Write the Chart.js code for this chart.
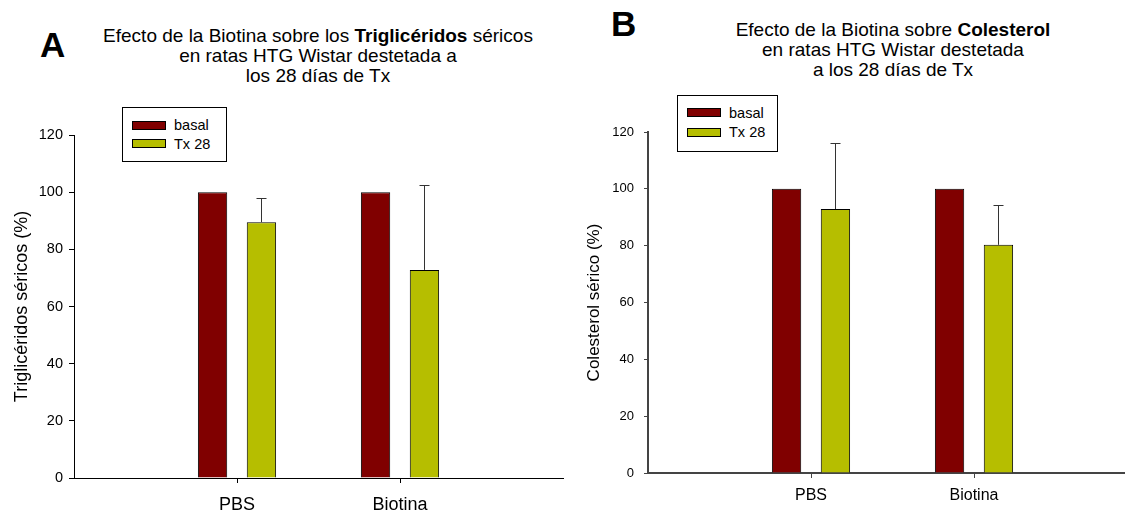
<!DOCTYPE html>
<html lang="es">
<head>
<meta charset="utf-8">
<title>Efecto de la Biotina</title>
<script src="https://cdn.jsdelivr.net/npm/chart.js@4.4.1/dist/chart.umd.min.js"></script>
<style>
    html, body { margin: 0; padding: 0; background: #fff; }
    body {
        width: 1125px; height: 511px; overflow: hidden; position: relative;
        font-family: "Liberation Sans", Arial, sans-serif; color: #000;
    }
    canvas { position: absolute; top: 0; }
    .abs { position: absolute; white-space: nowrap; }
    .letter { font-weight: bold; font-size: 35px; line-height: 35px; }
    .title { font-size: 19px; line-height: 20px; text-align: center; width: 500px; }
    .legend { border: 1px solid #000; box-sizing: border-box; background: #fff; }
    .swatch { border: 1px solid #000; box-sizing: border-box; }
    .leg-text { font-size: 14.5px; line-height: 14.5px; }
</style>
</head>
<body>

<div class="abs letter" style="left:40px;top:27px">A</div>
<div class="abs title" style="left:68px;top:26px">Efecto de la Biotina sobre los <b>Triglicéridos</b> séricos<br>en ratas HTG Wistar destetada a<br>los 28 días de Tx</div>

<div class="abs letter" style="left:611px;top:6px">B</div>
<div class="abs title" style="left:643px;top:20px">Efecto de la Biotina sobre <b>Colesterol</b><br>en ratas HTG Wistar destetada<br>a los 28 días de Tx</div>

<canvas id="chartA" width="574" height="511" style="left:0"></canvas>
<canvas id="chartB" width="585" height="511" style="left:560px"></canvas>

<script>
// Data
const categories = ['PBS', 'Biotina'];
const yTickValues = [0, 20, 40, 60, 80, 100, 120];
const seriesNames = ['basal', 'Tx 28'];
const seriesColors = ['#800000', '#b6be00'];

// A - Triglicéridos séricos (%)
const trigBasal = [100, 100];
const trigTx28 = [89.5, 72.8];
const trigTx28Err = [8.6, 29.6];

// B - Colesterol sérico (%)
const colBasal = [100, 100];
const colTx28 = [92.9, 80.3];
const colTx28Err = [23.4, 13.9];

// empty slot on each side of the two groups, like the original plot
const pad = arr => [null, ...arr, null];
const axisLabels = pad(categories).map(c => c || '');

// Error bars (only the upper half, as in the picture)
const errorBars = {
    id: 'errorBars',
    afterDatasetsDraw(chart, args, opts) {
        const ctx = chart.ctx;
        const yScale = chart.scales.y;
        chart.data.datasets.forEach((ds, i) => {
            if (!ds.errors) return;
            chart.getDatasetMeta(i).data.forEach((bar, j) => {
                const v = ds.data[j], err = ds.errors[j];
                if (v == null || err == null) return;
                const x = Math.round(bar.x) + 0.5;
                const top = Math.round(yScale.getPixelForValue(v + err)) + 0.5;
                ctx.save();
                ctx.strokeStyle = opts.color;
                ctx.lineWidth = 1;
                ctx.beginPath();
                ctx.moveTo(x, bar.y);
                ctx.lineTo(x, top);
                ctx.moveTo(x - opts.cap, top);
                ctx.lineTo(x + opts.cap, top);
                ctx.stroke();
                ctx.restore();
            });
        });
    }
};

function makeChart(id, s) {
    new Chart(document.getElementById(id), {
        type: 'bar',
        data: {
            labels: axisLabels,
            datasets: [
                {
                    label: seriesNames[0],
                    data: pad(s.basal),
                    backgroundColor: seriesColors[0],
                    borderColor: '#000',
                    borderWidth: 1
                },
                {
                    label: seriesNames[1],
                    data: pad(s.tx),
                    errors: pad(s.err),
                    backgroundColor: seriesColors[1],
                    borderColor: '#000',
                    borderWidth: 1
                }
            ]
        },
        options: {
            responsive: false,
            animation: false,
            devicePixelRatio: 1,
            categoryPercentage: 0.6,
            barPercentage: 0.6,
            layout: { padding: { top: s.padTop, right: s.padRight, left: 0, bottom: 0 } },
            plugins: {
                legend: { display: false },
                tooltip: { enabled: false },
                errorBars: { color: '#333', cap: 5 }
            },
            scales: {
                x: {
                    offset: false,
                    grid: {
                        offset: false,
                        drawOnChartArea: false,
                        tickLength: 5,
                        tickColor: c => (c.tick && c.tick.label) ? s.axisColor : 'rgba(0,0,0,0)'
                    },
                    border: { color: s.axisColor, width: s.axisWidth },
                    ticks: {
                        color: '#000',
                        padding: s.xPad,
                        maxRotation: 0,
                        autoSkip: false,
                        font: { family: 'Liberation Sans, Arial, sans-serif', size: s.xFont }
                    },
                    afterFit: sc => { sc.height = s.xHeight; }
                },
                y: {
                    min: yTickValues[0],
                    max: yTickValues[yTickValues.length - 1],
                    grid: {
                        drawOnChartArea: false,
                        tickLength: s.yTickLen,
                        tickColor: s.axisColor
                    },
                    border: { color: s.axisColor, width: s.axisWidth },
                    ticks: {
                        stepSize: yTickValues[1] - yTickValues[0],
                        color: '#000',
                        padding: s.yPad,
                        font: { family: 'Liberation Sans, Arial, sans-serif', size: s.yFont }
                    },
                    title: {
                        display: true,
                        text: s.yTitle,
                        color: '#000',
                        padding: { top: s.titlePad, bottom: 0 },
                        font: { family: 'Liberation Sans, Arial, sans-serif', size: s.titleFont }
                    },
                    afterFit: sc => { sc.width = s.yWidth; }
                }
            }
        },
        plugins: [errorBars]
    });
}

makeChart('chartA', {
    basal: trigBasal, tx: trigTx28, err: trigTx28Err,
    yTitle: 'Triglicéridos séricos (%)',
    padTop: 135, padRight: 3, yWidth: 74, xHeight: 33,
    axisColor: '#000', axisWidth: 1,
    xFont: 18, xPad: 11, yFont: 14.5, yPad: 6, yTickLen: 5,
    titleFont: 18, titlePad: 11
});

makeChart('chartB', {
    basal: colBasal, tx: colTx28, err: colTx28Err,
    yTitle: 'Colesterol sérico (%)',
    padTop: 132, padRight: 8, yWidth: 88, xHeight: 38,
    axisColor: '#444', axisWidth: 2,
    xFont: 16, xPad: 8, yFont: 13, yPad: 10, yTickLen: 4,
    titleFont: 17, titlePad: 24
});

// Legends (boxed, inside the plot, as in the original)
function addLegend(b) {
    const box = document.createElement('div');
    box.className = 'abs legend';
    Object.assign(box.style, { left: b.x + 'px', top: b.y + 'px', width: b.w + 'px', height: b.h + 'px' });
    document.body.appendChild(box);
    seriesNames.forEach((name, i) => {
        const sw = document.createElement('div');
        sw.className = 'abs swatch';
        Object.assign(sw.style, {
            left: b.swX + 'px', top: b.swTops[i] + 'px',
            width: b.swW + 'px', height: b.swH + 'px', background: seriesColors[i]
        });
        document.body.appendChild(sw);
        const t = document.createElement('div');
        t.className = 'abs leg-text';
        t.textContent = name;
        Object.assign(t.style, { left: b.textX + 'px', top: (b.baselines[i] - 12.3) + 'px' });
        document.body.appendChild(t);
    });
}

addLegend({ x: 122, y: 107, w: 105, h: 55, swX: 132, swW: 34, swH: 9,
    swTops: [121, 139], textX: 174, baselines: [130, 149] });
addLegend({ x: 677, y: 95, w: 101, h: 57, swX: 687, swW: 34, swH: 9,
    swTops: [108, 128], textX: 729, baselines: [118, 137] });
</script>
</body>
</html>
